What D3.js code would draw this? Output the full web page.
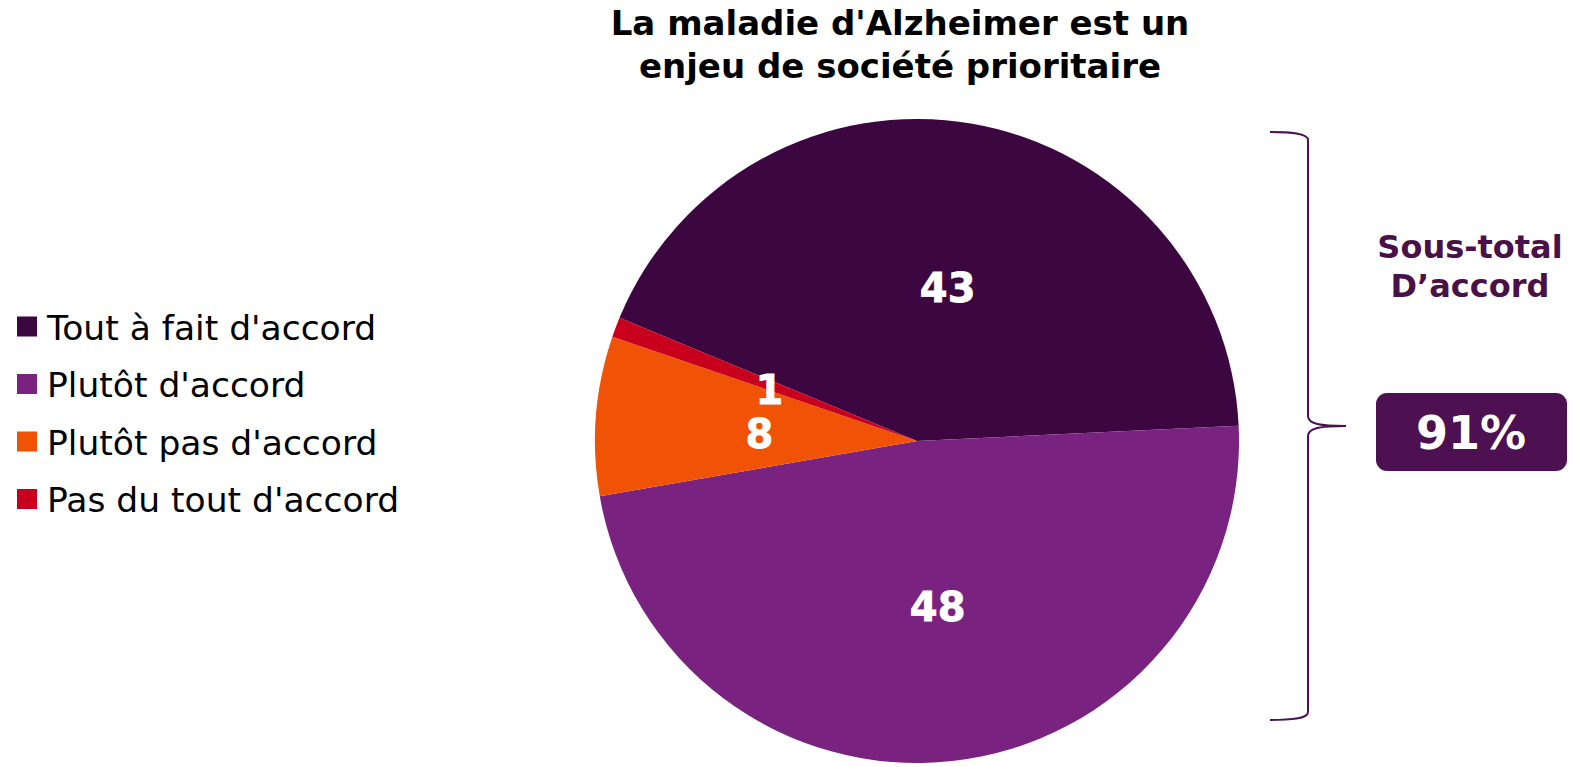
<!DOCTYPE html>
<html>
<head>
<meta charset="utf-8">
<script src="https://cdn.jsdelivr.net/npm/d3@7"></script>
<style>
  html, body { margin: 0; padding: 0; background: #fff; }
  svg { display: block; }
  text { font-family: "DejaVu Sans", Verdana, sans-serif; }
</style>
</head>
<body>
<svg id="chart" width="1573" height="767"></svg>
<script>
// ---- data ----
const categories = ["Tout à fait d'accord", "Plutôt d'accord", "Plutôt pas d'accord", "Pas du tout d'accord"];
const values = [43, 48, 8, 1];
const colors = ["#3c0640", "#7a2280", "#f05206", "#c8001e"];
const titleLines = ["La maladie d'Alzheimer est un", "enjeu de société prioritaire"];
const subtotalLabel = ["Sous-total", "D’accord"];
const subtotalValue = "91%";

const svg = d3.select("#chart");

// ---- pie ----
const cx = 917, cy = 441, r = 322;
const startAngle = -67.5 * Math.PI / 180;
const pie = d3.pie().sort(null).value(d => d)
  .startAngle(startAngle).endAngle(startAngle + 2 * Math.PI);
const arcs = pie(values);
const arc = d3.arc().innerRadius(0).outerRadius(r);
const labelArc = d3.arc().innerRadius(161).outerRadius(161);

const g = svg.append("g").attr("transform", `translate(${cx},${cy})`);
g.selectAll("path.slice").data(arcs).join("path")
  .attr("class", "slice")
  .attr("d", arc)
  .attr("fill", (d, i) => colors[i]);

g.selectAll("text.lbl").data(arcs).join("text")
  .attr("class", "lbl")
  .attr("transform", d => { const [x, y] = labelArc.centroid(d); return `translate(${x + 3},${y + 5})`; })
  .attr("text-anchor", "middle")
  .attr("dy", "0.37em")
  .attr("fill", "#fff")
  .attr("stroke", "#fff").attr("stroke-width", 0.8)
  .attr("font-weight", "bold")
  .attr("font-size", 40)
  .text(d => d.value);

// ---- title ----
svg.append("text")
  .attr("x", 900).attr("y", 35)
  .attr("text-anchor", "middle")
  .attr("font-weight", "bold").attr("font-size", 34).attr("fill", "#000")
  .selectAll("tspan").data(titleLines).join("tspan")
  .attr("x", 900).attr("dy", (d, i) => i === 0 ? 0 : 43)
  .text(d => d);

// ---- legend ----
const legend = svg.append("g");
const lg = legend.selectAll("g").data(categories).join("g")
  .attr("transform", (d, i) => `translate(17,${326.5 + i * 57.5})`);
lg.append("rect").attr("x", 0).attr("y", -10).attr("width", 20).attr("height", 20)
  .attr("fill", (d, i) => colors[i]);
lg.append("text").attr("x", 30).attr("y", 13)
  .attr("font-size", 34.5).attr("fill", "#000")
  .text(d => d);

// ---- brace ----
const braceColor = "#4d1050";
const p = d3.path();
p.moveTo(1270, 132);
p.bezierCurveTo(1290, 132, 1308, 133, 1308, 140);
p.lineTo(1308, 416);
p.bezierCurveTo(1308, 424, 1320, 426, 1346, 426);
p.bezierCurveTo(1320, 426, 1308, 428, 1308, 436);
p.lineTo(1308, 712);
p.bezierCurveTo(1308, 719, 1290, 720, 1270, 720);
svg.append("path").attr("d", p.toString())
  .attr("fill", "none").attr("stroke", braceColor).attr("stroke-width", 2);

// ---- subtotal ----
svg.append("text")
  .attr("x", 1470).attr("y", 258)
  .attr("text-anchor", "middle")
  .attr("font-weight", "bold").attr("font-size", 32).attr("fill", "#4a1048")
  .selectAll("tspan").data(subtotalLabel).join("tspan")
  .attr("x", 1470).attr("dy", (d, i) => i === 0 ? 0 : 39)
  .text(d => d);

svg.append("rect")
  .attr("x", 1376).attr("y", 393).attr("width", 191).attr("height", 78)
  .attr("rx", 11).attr("fill", braceColor);
svg.append("text")
  .attr("x", 1471).attr("y", 449)
  .attr("text-anchor", "middle")
  .attr("font-weight", "bold").attr("font-size", 46).attr("fill", "#fff")
  .text(subtotalValue);
</script>
</body>
</html>
